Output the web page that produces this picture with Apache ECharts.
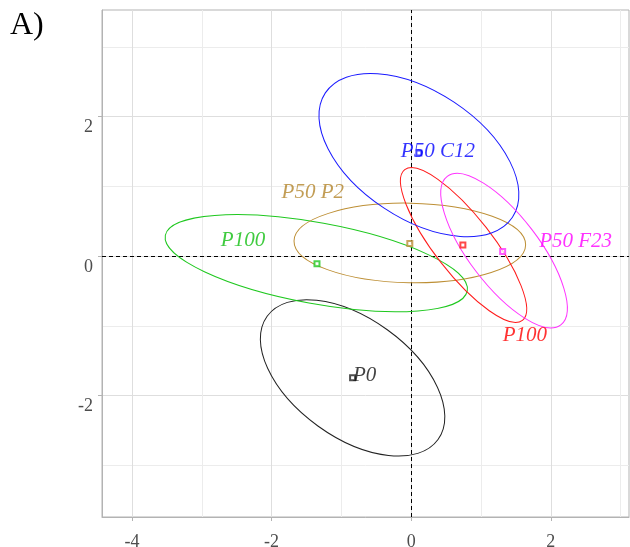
<!DOCTYPE html>
<html>
<head>
<meta charset="utf-8">
<script src="https://cdn.jsdelivr.net/npm/echarts@6/dist/echarts.min.js"></script>
<style>
  html, body { margin: 0; padding: 0; background: #fff; }
  #chart { width: 630px; height: 547px; }
</style>
</head>
<body>
<div id="chart"></div>
<script>
// ---- data ----
const groupNames   = ['P0', 'P100', 'P50 P2', 'P100', 'P50 C12', 'P50 F23'];
const centroidX    = [-0.84, -1.35, -0.02, 0.74, 0.11, 1.31];
const centroidY    = [-1.745, -0.11, 0.18, 0.16, 1.48, 0.066];
const ellipseCX    = [-0.84, -1.36, -0.02, 0.75, 0.11, 1.33];
const ellipseCY    = [-1.745, -0.10, 0.19, 0.16, 1.45, 0.08];
const ellipseA     = [1.51, 2.20, 1.66, 1.37, 1.61, 1.34];   // semi-major (data units)
const ellipseB     = [0.85, 0.58, 0.57, 0.41, 0.91, 0.50];   // semi-minor (data units)
const ellipseAngle = [-35.8, -10.4, -1, -52, -33.6, -52.6]; // degrees
const xTickValues  = [-4, -2, 0, 2];
const yTickValues  = [-2, 0, 2];

// ---- styles ----
const groupColors  = ['#222222', '#1FC81F', '#BD8F35', '#FF1A1A', '#1A1AFF', '#FF33FF'];
const labelColors  = ['#111111', '#10BE10', '#B3852A', '#FF0000', '#0000FF', '#FF00FF'];
const labelOffsets = [[12, -2], [-74, -23], [-97, -51], [62, 90], [19, -1], [73, -10]];
const serif = '"Liberation Serif", "Times New Roman", serif';

const ellipseData = groupNames.map((n, i) =>
  [ellipseCX[i], ellipseCY[i], ellipseA[i], ellipseB[i], ellipseAngle[i]]);

const centroidData = groupNames.map((n, i) => ({
  name: n,
  value: [centroidX[i], centroidY[i]],
  itemStyle: { color: groupColors[i], borderColor: groupColors[i] },
  label: { offset: labelOffsets[i], color: labelColors[i] }
}));

const chart = echarts.init(document.getElementById('chart'), null, { renderer: 'canvas' });

const axisCommon = {
  type: 'value',
  axisLine: { show: true, onZero: false, lineStyle: { color: '#B3B3B3', width: 1 } },
  axisTick: { show: true, length: 4, lineStyle: { color: '#B3B3B3' } },
  splitLine: { show: true, lineStyle: { color: '#DEDEDE', width: 1 } },
  minorTick: { show: false, splitNumber: 2 },
  minorSplitLine: { show: true, lineStyle: { color: '#ECECEC', width: 1 } },
  splitNumber: 4
};

chart.setOption({
  animation: false,
  backgroundColor: '#ffffff',
  graphic: [{
    type: 'text', left: 10, top: 10,
    style: { text: 'A)', font: '32px ' + serif, fill: '#000000' }
  }],
  grid: {
    left: 102, right: 1, top: 10, bottom: 30,
    show: true, borderColor: '#B3B3B3', borderWidth: 1,
    containLabel: false, outerBoundsMode: 'none'
  },
  xAxis: Object.assign({}, axisCommon, {
    min: -4.43, max: 3.12,
    axisTick: Object.assign({}, axisCommon.axisTick, { customValues: xTickValues }),
    axisLabel: {
      customValues: xTickValues, margin: 16,
      fontFamily: serif, fontSize: 18, color: '#4D4D4D',
      formatter: v => String(v)
    }
  }),
  yAxis: Object.assign({}, axisCommon, {
    min: -3.74, max: 3.53,
    axisTick: Object.assign({}, axisCommon.axisTick, { customValues: yTickValues }),
    axisLabel: {
      customValues: yTickValues, margin: 9, verticalAlign: 'top',
      padding: [2, 0, 0, 0],
      fontFamily: serif, fontSize: 18, color: '#4D4D4D',
      formatter: v => String(v)
    }
  }),
  series: [
    {
      type: 'custom',
      name: 'ellipses',
      data: ellipseData,
      encode: { x: 0, y: 1 },
      silent: true,
      clip: true,
      z: 2,
      renderItem: function (params, api) {
        const c = api.coord([api.value(0), api.value(1)]);
        const sx = api.size([1, 0])[0];
        const sy = api.size([0, 1])[1];
        const s = (sx + sy) / 2;
        return {
          type: 'ellipse',
          x: c[0], y: c[1],
          rotation: api.value(4) * Math.PI / 180,
          shape: { cx: 0, cy: 0, rx: api.value(2) * s, ry: api.value(3) * s },
          style: { fill: 'none', stroke: groupColors[params.dataIndex], lineWidth: 1 }
        };
      }
    },
    {
      type: 'scatter',
      name: 'centroids',
      symbol: 'emptyRect',
      symbolSize: 5,
      z: 3,
      data: centroidData,
      label: {
        show: true,
        position: 'inside',
        formatter: p => p.name,
        fontFamily: serif,
        fontStyle: 'italic',
        fontSize: 21,
        align: 'center',
        verticalAlign: 'middle'
      },
      markLine: {
        silent: true,
        symbol: ['none', 'none'],
        label: { show: false },
        lineStyle: { color: '#000000', type: [4, 3], width: 1 },
        data: [{ xAxis: 0 }, { yAxis: 0 }],
        z: 1
      }
    }
  ]
});
</script>
</body>
</html>
